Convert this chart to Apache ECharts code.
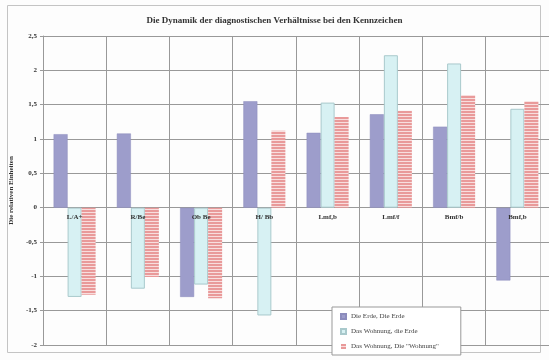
<!DOCTYPE html>
<html>
<head>
<meta charset="utf-8">
<script src="https://cdn.jsdelivr.net/npm/echarts@6/dist/echarts.min.js"></script>
<style>
  html, body { margin: 0; padding: 0; background: #fdfdfd; }
  #chart { width: 549px; height: 360px; }
</style>
</head>
<body>
<div id="chart"></div>
<script>
// Kennzeichen (categories) and the three measured series
const categories = ['L/A+', 'R/Be', 'Ob Be', 'H/ Bb', 'Lmf,b', 'Lmf/f', 'Bmf/b', 'Bmf,b'];
const seriesNames = ['Die Erde, Die Erde', 'Das Wohnung, die Erde', 'Das Wohnung, Die "Wohnung"'];
const erdeErde = [1.07, 1.08, -1.30, 1.55, 1.09, 1.36, 1.18, -1.06];
const wohnungErde = [-1.30, -1.18, -1.12, -1.57, 1.53, 2.22, 2.10, 1.44];
const wohnungWohnung = [-1.27, -1.01, -1.32, 1.12, 1.32, 1.41, 1.64, 1.55];
const yTicks = [-2, -1.5, -1, -0.5, 0, 0.5, 1, 1.5, 2, 2.5];

const Y_MIN = -2, Y_MAX = 2.5;
const GRID_TOP = 36, GRID_BOTTOM = 15, CHART_H = 360;

// horizontal stripe fill for the third series
function stripePattern() {
  const c = document.createElement('canvas');
  c.width = 4; c.height = 3;
  const ctx = c.getContext('2d');
  ctx.fillStyle = '#f8dede';
  ctx.fillRect(0, 0, 4, 3);
  ctx.fillStyle = '#e99a9a';
  ctx.fillRect(0, 0, 4, 2);
  return c;
}

// shift the category axis from the plot bottom up to the zero line
const plotH = CHART_H - GRID_TOP - GRID_BOTTOM;
const zeroOffset = -plotH * (0 - Y_MIN) / (Y_MAX - Y_MIN);

const chart = echarts.init(document.getElementById('chart'), null, { renderer: 'canvas' });
const serif = '"Liberation Serif", "DejaVu Serif", serif';

chart.setOption({
  animation: false,
  backgroundColor: '#fdfdfd',
  graphic: [{
    type: 'rect',
    shape: { x: 7.5, y: 5.5, width: 533, height: 347 },
    style: { fill: 'none', stroke: '#c4c4c4', lineWidth: 1 },
    z: -10
  }],
  title: {
    text: 'Die Dynamik der diagnostischen Verhältnisse bei den Kennzeichen',
    left: 'center',
    top: 11,
    textStyle: { fontFamily: serif, fontSize: 9, fontWeight: 'bold', color: '#333' }
  },
  legend: {
    orient: 'vertical',
    left: 332,
    top: 307,
    padding: [6, 22, 5, 8],
    itemWidth: 5,
    itemHeight: 5,
    itemGap: 8,
    borderColor: '#999',
    borderWidth: 1,
    backgroundColor: '#fff',
    icon: 'rect',
    textStyle: { fontFamily: serif, fontSize: 7, color: '#444' },
    data: seriesNames
  },
  grid: { left: 40, right: 0, top: GRID_TOP, bottom: GRID_BOTTOM, containLabel: false },
  xAxis: [
    {
      // vertical grid lines across the whole plot
      type: 'category',
      data: categories,
      position: 'bottom',
      axisLine: { show: true, onZero: false, lineStyle: { color: '#999' } },
      axisTick: { show: false },
      axisLabel: { show: false },
      splitLine: { show: true, lineStyle: { color: '#999', width: 1 } }
    },
    {
      // category labels sitting just under the zero line
      type: 'category',
      data: categories,
      position: 'bottom',
      offset: zeroOffset,
      z: 5,
      axisLine: { show: false, onZero: false },
      axisTick: { show: false },
      axisLabel: {
        fontFamily: serif, fontSize: 7, fontWeight: 'bold', color: '#333', margin: 6
      },
      splitLine: { show: false }
    }
  ],
  yAxis: {
    type: 'value',
    min: Y_MIN,
    max: Y_MAX,
    interval: 0.5,
    name: 'Die relativen Einheiten',
    nameLocation: 'middle',
    nameGap: 24,
    nameTextStyle: { fontFamily: serif, fontSize: 7, fontWeight: 'bold', color: '#333' },
    axisLine: { show: true, lineStyle: { color: '#999' } },
    axisTick: { show: true, length: 3, lineStyle: { color: '#999' } },
    axisLabel: {
      fontFamily: serif, fontSize: 7, fontWeight: 'bold', color: '#333', margin: 6,
      formatter: v => yTicks.includes(v) ? String(v).replace('.', ',') : ''
    },
    splitLine: { show: true, lineStyle: { color: '#999', width: 1 } }
  },
  series: [
    {
      name: seriesNames[0], type: 'bar', data: erdeErde,
      barWidth: 14, barGap: '0%',
      itemStyle: { color: '#9d9dcb', borderColor: '#8c8cbc', borderWidth: 0.5 }
    },
    {
      name: seriesNames[1], type: 'bar', data: wohnungErde,
      barWidth: 14, barGap: '0%',
      itemStyle: { color: '#d7f1f3', borderColor: '#a9c9cc', borderWidth: 1 }
    },
    {
      name: seriesNames[2], type: 'bar', data: wohnungWohnung,
      barWidth: 14, barGap: '0%',
      itemStyle: { color: { image: stripePattern(), repeat: 'repeat' } }
    }
  ]
});
</script>
</body>
</html>
